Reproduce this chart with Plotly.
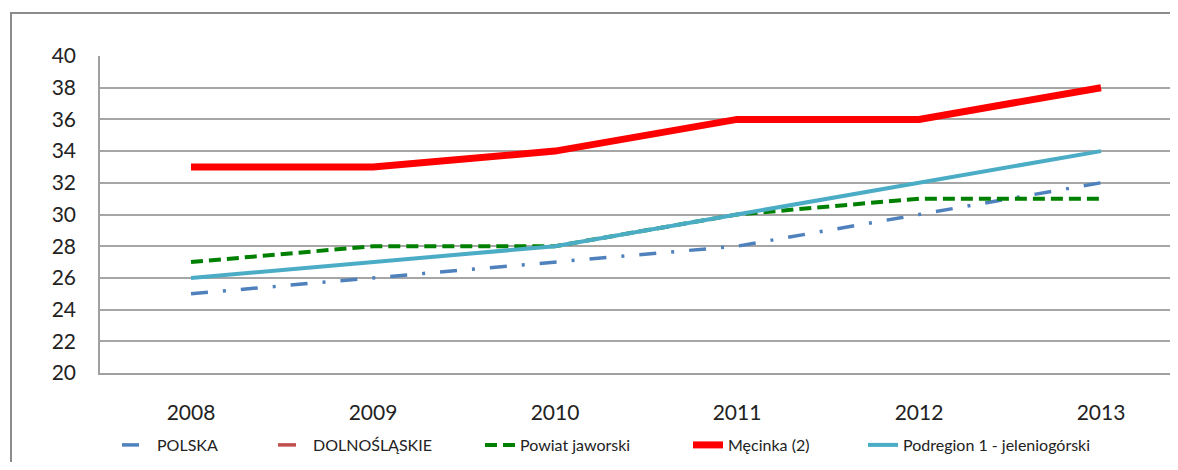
import plotly.graph_objects as go

years = ["2008", "2009", "2010", "2011", "2012", "2013"]
polska = [25, 26, 27, 28, 30, 32]
dolnoslaskie = [None, None, None, None, None, None]
powiat = [27, 28, 28, 30, 31, 31]
mecinka = [33, 33, 34, 36, 36, 38]
podregion = [26, 27, 28, 30, 32, 34]
y_ticks = list(range(20, 41, 2))

FONT = "Lato"
OFF = 8  # page body margin
W, H = 1162, 454
L = 100 - OFF
T = 56 - OFF
BOT = 373 - OFF
B = H - BOT
R = 0
pw = W - L - R
ph = H - T - B
PLOT_RIGHT_REF = 1192  # reference pixel of the plot area's right edge

def px_x(x):
    return (x - OFF - L) / pw

def px_y(y):
    return (BOT - (y - OFF)) / ph

xmax = -0.5 + 6 * pw / (PLOT_RIGHT_REF - 100)

fig = go.Figure()
series = [
    ("POLSKA", polska, dict(color="#4F81BD", width=3.5, dash="17px,15px,3px,15px"), "legend", 157),
    ("DOLNOŚLĄSKIE", dolnoslaskie, dict(color="#C0504D", width=3.5, dash="18px,14px"), "legend2", 313),
    ("Powiat jaworski", powiat, dict(color="#008000", width=4, dash="12px,6px"), "legend3", 520),
    ("Męcinka (2)", mecinka, dict(color="#FF0000", width=7), "legend4", 728),
    ("Podregion 1 - jeleniogórski", podregion, dict(color="#4BACC6", width=4), "legend5", 903),
]
for name, vals, line, lg, _ in series:
    fig.add_trace(go.Scatter(x=years, y=vals, name=name, mode="lines", line=line,
                             legend=lg, showlegend=True, connectgaps=False))

legend_common = dict(orientation="h", xref="container", yref="container",
                     yanchor="middle", y=(H - (445 - OFF)) / H, xanchor="left",
                     font=dict(family=FONT, size=16, color="#222"), bgcolor="rgba(0,0,0,0)",
                     borderwidth=0, tracegroupgap=0)
lay_leg = {}
for name, vals, line, lg, xpos in series:
    lay_leg[lg] = dict(legend_common, x=(xpos - OFF - 40) / W)

frame = dict(color="#8C8C8C", width=2)
fig.update_layout(
    width=W, height=H,
    margin=dict(l=L, r=R, t=T, b=B, autoexpand=False),
    paper_bgcolor="white", plot_bgcolor="white",
    font=dict(family=FONT, color="#222"),
    xaxis=dict(type="category", range=[-0.5, xmax], showgrid=False,
               showline=True, linecolor="#A0A0A0", linewidth=1.5, ticks="",
               tickfont=dict(family=FONT, size=21, color="#222"), ticklabelstandoff=20,
               automargin=False),
    yaxis=dict(range=[20, 40], tickvals=y_ticks, showgrid=True, gridcolor="#A6A6A6",
               gridwidth=1.5, showline=True, linecolor="#A0A0A0", linewidth=1.5,
               ticks="", zeroline=False, automargin=False,
               tickfont=dict(family=FONT, size=21, color="#222"), ticklabelstandoff=18),
    shapes=[
        dict(type="line", xref="paper", yref="paper", x0=px_x(11), x1=px_x(11),
             y0=px_y(13), y1=px_y(500), line=frame, layer="below"),
        dict(type="line", xref="paper", yref="paper", x0=px_x(10), x1=px_x(1300),
             y0=px_y(13), y1=px_y(13), line=frame, layer="below"),
    ],
    **lay_leg,
)

fig.write_html("out.html")
